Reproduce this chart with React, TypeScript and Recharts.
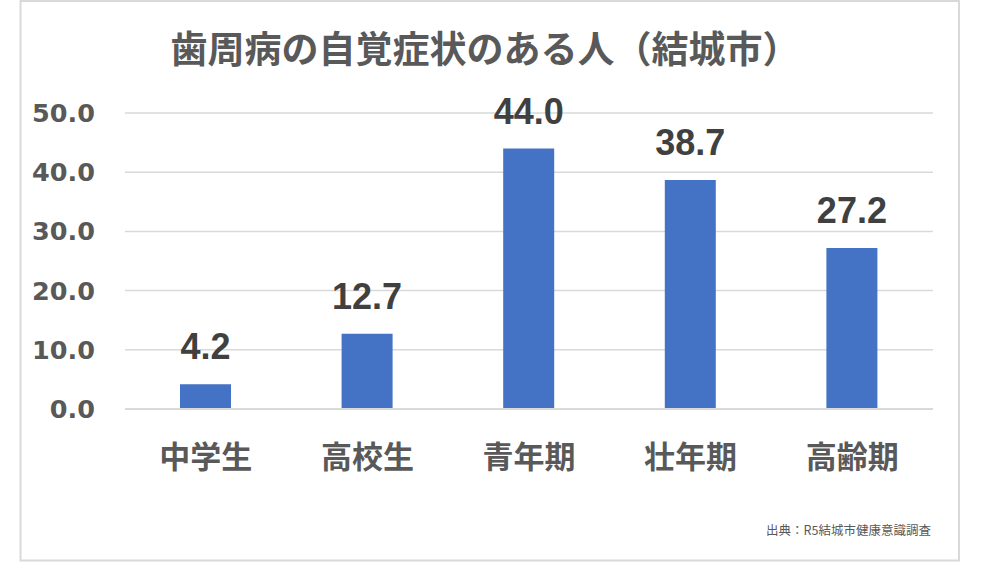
import React from "react";
import { BarChart, Bar, XAxis, YAxis, CartesianGrid, LabelList } from "recharts";

const categories = ["中学生", "高校生", "青年期", "壮年期", "高齢期"];
const values = [4.2, 12.7, 44.0, 38.7, 27.2];
const yTicks = [0, 10, 20, 30, 40, 50];
const title = "歯周病の自覚症状のある人（結城市）";
const footnote = "出典：R5結城市健康意識調査";

const data = categories.map((c, i) => ({ name: c, value: values[i] }));

const CJK = '"Noto Sans CJK JP", "Noto Sans", sans-serif';

const XTick = (props: any) => {
  const { x, y, payload } = props;
  return (
    <text
      x={x}
      y={y + 45}
      textAnchor="middle"
      dominantBaseline="central"
      fill="#595959"
      fontFamily={CJK}
      fontWeight={700}
      fontSize={31}
    >
      {payload.value}
    </text>
  );
};

export default function App() {
  return (
    <div style={{ position: "absolute", left: 0, top: 0, width: 1000, height: 562, background: "#fff" }}>
      <BarChart
        width={1000}
        height={562}
        data={data}
        margin={{ top: 113, right: 67, bottom: 123, left: 0 }}
      >
        <CartesianGrid horizontal vertical={false} stroke="#d9d9d9" strokeWidth={1.5} />
        <XAxis
          dataKey="name"
          height={30}
          axisLine={{ stroke: "#d9d9d9", strokeWidth: 2 }}
          tickLine={false}
          tickSize={0}
          tickMargin={0}
          tick={<XTick />}
          interval={0}
        />
        <YAxis
          width={125}
          domain={[0, 50]}
          ticks={yTicks}
          axisLine={false}
          tickLine={false}
          tickSize={0}
          tickMargin={30}
          tickFormatter={(v: number) => v.toFixed(1)}
          tick={{ fill: "#595959", fontFamily: '"DejaVu Sans", sans-serif', fontWeight: 700, fontSize: 25.5 }}
        />
        <Bar dataKey="value" fill="#4472C4" barSize={51} isAnimationActive={false}>
          <LabelList
            dataKey="value"
            position="top"
            offset={25}
            formatter={(v: any) => Number(v).toFixed(1)}
            fill="#404040"
            fontFamily='"Liberation Sans", Arial, sans-serif'
            fontWeight={700}
            fontSize={36}
          />
        </Bar>
      </BarChart>
      <svg
        width={1000}
        height={562}
        style={{ position: "absolute", left: 0, top: 0, pointerEvents: "none" }}
      >
        <rect x={20.5} y={1} width={938.5} height={559.5} fill="none" stroke="#d9d9d9" strokeWidth={2} />
        <text
          x={485}
          y={47}
          textAnchor="middle"
          dominantBaseline="central"
          fill="#595959"
          fontFamily={CJK}
          fontWeight={700}
          fontSize={37}
        >
          {title}
        </text>
        <text
          x={931}
          y={529}
          textAnchor="end"
          dominantBaseline="central"
          fill="#595959"
          fontFamily={CJK}
          fontSize={12.5}
        >
          {footnote}
        </text>
      </svg>
    </div>
  );
}
